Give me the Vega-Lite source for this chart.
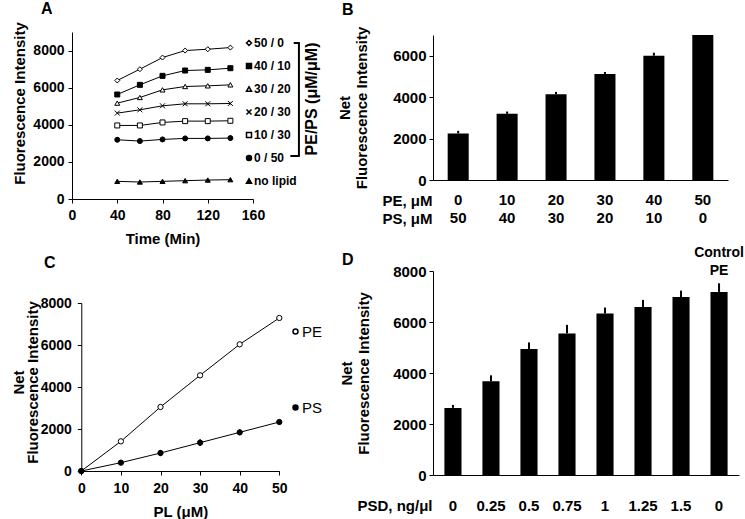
{
  "$schema": "https://vega.github.io/schema/vega-lite/v6.json",
  "background": "white",
  "padding": {"left": 11, "top": 0, "right": 2, "bottom": 2},
  "config": {
    "font": "Liberation Sans",
    "view": {"stroke": null},
    "axis": {"grid": false, "domainColor": "black", "domainWidth": 1, "tickColor": "black", "tickWidth": 1, "labelColor": "black", "labelFontWeight": "bold", "labelFontSize": 14, "titleColor": "black", "titleFontWeight": "bold", "titleFontSize": 15, "labelFont": "Liberation Sans", "titleFont": "Liberation Sans"},
    "title": {"fontSize": 16, "fontWeight": "bold", "anchor": "start", "frame": "group", "color": "black", "font": "Liberation Sans"}
  },
  "spacing": 14,
  "resolve": {"scale": {"shape": "independent", "fill": "independent"}, "legend": {"shape": "independent", "fill": "independent"}},
  "hconcat": [
    {
      "spacing": 9,
      "resolve": {"scale": {"shape": "independent", "fill": "independent"}, "legend": {"shape": "independent", "fill": "independent"}},
      "vconcat": [
        {
          "width": 181, "height": 167,
          "title": {"text": "A", "dx": -31, "offset": 5},
          "data": {"values": [
            {"time": 40, "series": "50 / 0", "value": 6386}, {"time": 60, "series": "50 / 0", "value": 6996}, {"time": 80, "series": "50 / 0", "value": 7623}, {"time": 100, "series": "50 / 0", "value": 8000, "lo": 7850, "hi": 8150}, {"time": 120, "series": "50 / 0", "value": 8072, "lo": 7920, "hi": 8220}, {"time": 140, "series": "50 / 0", "value": 8161, "lo": 8010, "hi": 8310},
            {"time": 40, "series": "40 / 10", "value": 5632}, {"time": 60, "series": "40 / 10", "value": 6152}, {"time": 80, "series": "40 / 10", "value": 6637, "lo": 6490, "hi": 6790}, {"time": 100, "series": "40 / 10", "value": 6924, "lo": 6770, "hi": 7080}, {"time": 120, "series": "40 / 10", "value": 6960, "lo": 6810, "hi": 7110}, {"time": 140, "series": "40 / 10", "value": 7049, "lo": 6890, "hi": 7210},
            {"time": 40, "series": "30 / 20", "value": 5166}, {"time": 60, "series": "30 / 20", "value": 5471}, {"time": 80, "series": "30 / 20", "value": 5883}, {"time": 100, "series": "30 / 20", "value": 6063}, {"time": 120, "series": "30 / 20", "value": 6099}, {"time": 140, "series": "30 / 20", "value": 6152, "lo": 6000, "hi": 6300},
            {"time": 40, "series": "20 / 30", "value": 4628}, {"time": 60, "series": "20 / 30", "value": 4807}, {"time": 80, "series": "20 / 30", "value": 5022}, {"time": 100, "series": "20 / 30", "value": 5130, "lo": 5030, "hi": 5230}, {"time": 120, "series": "20 / 30", "value": 5130, "lo": 5030, "hi": 5230}, {"time": 140, "series": "20 / 30", "value": 5148, "lo": 5050, "hi": 5250},
            {"time": 40, "series": "10 / 30", "value": 3964}, {"time": 60, "series": "10 / 30", "value": 3964}, {"time": 80, "series": "10 / 30", "value": 4126}, {"time": 100, "series": "10 / 30", "value": 4197}, {"time": 120, "series": "10 / 30", "value": 4197}, {"time": 140, "series": "10 / 30", "value": 4215},
            {"time": 40, "series": "0 / 50", "value": 3193, "lo": 3040, "hi": 3340}, {"time": 60, "series": "0 / 50", "value": 3121, "lo": 2970, "hi": 3270}, {"time": 80, "series": "0 / 50", "value": 3211, "lo": 3060, "hi": 3360}, {"time": 100, "series": "0 / 50", "value": 3265, "lo": 3110, "hi": 3410}, {"time": 120, "series": "0 / 50", "value": 3265, "lo": 3110, "hi": 3410}, {"time": 140, "series": "0 / 50", "value": 3283, "lo": 3130, "hi": 3430},
            {"time": 40, "series": "no lipid", "value": 951}, {"time": 60, "series": "no lipid", "value": 915}, {"time": 80, "series": "no lipid", "value": 951}, {"time": 100, "series": "no lipid", "value": 987}, {"time": 120, "series": "no lipid", "value": 1022}, {"time": 140, "series": "no lipid", "value": 1040}
          ]},
          "layer": [
            {
              "mark": {"type": "line", "color": "black", "strokeWidth": 1},
              "encoding": {
                "x": {"field": "time", "type": "quantitative", "scale": {"domain": [0, 160]}, "axis": {"values": [0, 40, 80, 120, 160], "format": "d", "title": "Time (Min)", "tickSize": 4, "labelPadding": 5, "titlePadding": 9, "labelFlush": false}},
                "y": {"field": "value", "type": "quantitative", "scale": {"domain": [0, 9000]}, "axis": {"values": [0, 2000, 4000, 6000, 8000], "format": "d", "title": "Fluorescence Intensity", "tickSize": 4, "labelPadding": 4, "titlePadding": 5, "titleY": 71}},
                "detail": {"field": "series", "type": "nominal"}
              }
            },
            {
              "mark": {"type": "rule", "color": "#9a9a9a", "strokeWidth": 1},
              "encoding": {"x": {"field": "time", "type": "quantitative"}, "y": {"field": "lo", "type": "quantitative"}, "y2": {"field": "hi"}}
            },
            {
              "mark": {"type": "point", "stroke": "black", "strokeWidth": 1, "size": 25, "opacity": 1},
              "encoding": {
                "x": {"field": "time", "type": "quantitative"},
                "y": {"field": "value", "type": "quantitative"},
                "shape": {"field": "series", "type": "nominal",
                  "scale": {"domain": ["50 / 0", "40 / 10", "30 / 20", "20 / 30", "10 / 30", "0 / 50", "no lipid"], "range": ["diamond", "square", "triangle-up", "M-1,-1L1,1M-1,1L1,-1", "square", "circle", "triangle-up"]},
                  "legend": {"orient": "none", "legendX": 171, "legendY": 5, "title": null, "padding": 0, "rowPadding": 11, "labelFontSize": 12, "labelFontWeight": "bold", "labelColor": "black", "symbolSize": 25, "labelOffset": -1, "encode": {"symbols": {"update": {"stroke": {"value": "black"}, "strokeWidth": {"value": 1}}}}}},
                "fill": {"field": "series", "type": "nominal",
                  "scale": {"domain": ["50 / 0", "40 / 10", "30 / 20", "20 / 30", "10 / 30", "0 / 50", "no lipid"], "range": ["white", "black", "white", "white", "white", "black", "black"]},
                  "legend": {"orient": "none", "legendX": 171, "legendY": 5, "title": null, "padding": 0, "rowPadding": 11, "labelFontSize": 12, "labelFontWeight": "bold", "labelColor": "black", "symbolSize": 25, "labelOffset": -1, "encode": {"symbols": {"update": {"stroke": {"value": "black"}, "strokeWidth": {"value": 1}}}}}}
              }
            },
            {
              "data": {"values": [{}]},
              "mark": {"type": "rule", "color": "black", "strokeWidth": 2},
              "encoding": {"x": {"datum": 200.6, "type": "quantitative"}, "y": {"datum": 8407, "type": "quantitative"}, "y2": {"datum": 2317}}
            },
            {
              "data": {"values": [{}]},
              "mark": {"type": "rule", "color": "black", "strokeWidth": 2},
              "encoding": {"x": {"datum": 196, "type": "quantitative"}, "x2": {"datum": 201.4}, "y": {"datum": 8407, "type": "quantitative"}}
            },
            {
              "data": {"values": [{}]},
              "mark": {"type": "rule", "color": "black", "strokeWidth": 2},
              "encoding": {"x": {"datum": 193, "type": "quantitative"}, "x2": {"datum": 201.4}, "y": {"datum": 2317, "type": "quantitative"}}
            },
            {
              "data": {"values": [{}]},
              "mark": {"type": "text", "angle": 270, "fontSize": 16, "fontWeight": "bold", "text": "PE/PS (μM/μM)", "align": "center", "baseline": "middle", "color": "black"},
              "encoding": {"x": {"datum": 212.4, "type": "quantitative"}, "y": {"datum": 5389, "type": "quantitative"}}
            }
          ]
        },
        {
          "width": 207, "height": 168,
          "title": {"text": "C", "dx": -28, "offset": 25},
          "data": {"values": [
            {"pl": 0, "lipid": "PE", "value": 0}, {"pl": 10, "lipid": "PE", "value": 1413}, {"pl": 20, "lipid": "PE", "value": 3048}, {"pl": 30, "lipid": "PE", "value": 4556}, {"pl": 40, "lipid": "PE", "value": 6032}, {"pl": 50, "lipid": "PE", "value": 7286},
            {"pl": 0, "lipid": "PS", "value": 0}, {"pl": 10, "lipid": "PS", "value": 397}, {"pl": 20, "lipid": "PS", "value": 857, "lo": 710, "hi": 1000}, {"pl": 30, "lipid": "PS", "value": 1349, "lo": 1190, "hi": 1510}, {"pl": 40, "lipid": "PS", "value": 1841, "lo": 1700, "hi": 1980}, {"pl": 50, "lipid": "PS", "value": 2333}
          ]},
          "layer": [
            {
              "mark": {"type": "line", "color": "black", "strokeWidth": 1},
              "encoding": {
                "x": {"field": "pl", "type": "quantitative", "scale": {"domain": [0, 50], "range": [9.3, 207.3]}, "axis": {"values": [0, 10, 20, 30, 40, 50], "format": "d", "title": "PL (μM)", "tickSize": 4, "labelPadding": 6, "titlePadding": 9, "labelFlush": false}},
                "y": {"field": "value", "type": "quantitative", "scale": {"domain": [0, 8000]}, "axis": {"offset": -9.3, "values": [0, 1000, 2000, 3000, 4000, 5000, 6000, 7000, 8000], "format": "d", "labelExpr": "datum.value % 2000 == 0 ? datum.label : ''", "title": ["Net", "Fluorescence Intensity"], "titleLineHeight": 14, "tickSize": 4, "labelPadding": 6, "titlePadding": 0, "titleY": 79}},
                "detail": {"field": "lipid", "type": "nominal"}
              }
            },
            {
              "mark": {"type": "rule", "color": "black", "strokeWidth": 1.5},
              "encoding": {"x": {"field": "pl", "type": "quantitative"}, "y": {"field": "lo", "type": "quantitative"}, "y2": {"field": "hi"}}
            },
            {
              "mark": {"type": "point", "stroke": "black", "strokeWidth": 1, "size": 28, "opacity": 1},
              "encoding": {
                "x": {"field": "pl", "type": "quantitative"},
                "y": {"field": "value", "type": "quantitative"},
                "shape": {"field": "lipid", "type": "nominal", "scale": {"domain": ["PE", "PS"], "range": ["circle", "circle"]},
                  "legend": {"orient": "none", "legendX": 216, "legendY": 21, "title": null, "padding": 0, "rowPadding": 60, "labelFontSize": 15, "labelFontWeight": "normal", "labelColor": "black", "symbolSize": 25, "labelOffset": -1, "encode": {"symbols": {"update": {"stroke": {"value": "black"}, "strokeWidth": {"value": 1}}}}}},
                "fill": {"field": "lipid", "type": "nominal", "scale": {"domain": ["PE", "PS"], "range": ["white", "black"]},
                  "legend": {"orient": "none", "legendX": 216, "legendY": 21, "title": null, "padding": 0, "rowPadding": 60, "labelFontSize": 15, "labelFontWeight": "normal", "labelColor": "black", "symbolSize": 25, "labelOffset": -1, "encode": {"symbols": {"update": {"stroke": {"value": "black"}, "strokeWidth": {"value": 1}}}}}}
              }
            }
          ]
        }
      ]
    },
    {
      "spacing": 20,
      "vconcat": [
        {
          "width": 295, "height": 148,
          "title": {"text": "B", "dx": -91, "offset": 8},
          "data": {"values": [
            {"cat": "0|50", "value": 2246, "hi": 2374},
            {"cat": "10|40", "value": 3193, "hi": 3305},
            {"cat": "20|30", "value": 4139, "hi": 4252},
            {"cat": "30|20", "value": 5118, "hi": 5214},
            {"cat": "40|10", "value": 6000, "hi": 6145},
            {"cat": "50|0", "value": 7000, "hi": 7000}
          ]},
          "encoding": {
            "x": {"field": "cat", "type": "nominal", "sort": null, "scale": {"paddingInner": 0.57, "paddingOuter": 0.3},
              "axis": {"labelAngle": 0, "labelExpr": "split(datum.label, '|')", "ticks": false, "labelPadding": 12, "labelLineHeight": 18, "labelFontSize": 15, "title": ["PE, μM", "PS, μM"], "titleAlign": "right", "titleX": -1, "titleY": 13, "titleBaseline": "top", "titleLineHeight": 18, "titleFontSize": 15}}
          },
          "layer": [
            {
              "mark": {"type": "bar", "color": "black"},
              "encoding": {"y": {"field": "value", "type": "quantitative", "scale": {"domain": [0, 7000], "range": [148, 3]}, "axis": {"values": [0, 1000, 2000, 3000, 4000, 5000, 6000, 7000], "format": "d", "labelExpr": "datum.value % 2000 == 0 ? datum.label : ''", "labelFontSize": 15, "title": ["Net", "Fluorescence Intensity"], "titleLineHeight": 17, "tickSize": 4, "labelPadding": 3, "titlePadding": 23}}}
            },
            {
              "mark": {"type": "rule", "color": "black", "strokeWidth": 2},
              "encoding": {"y": {"field": "value", "type": "quantitative"}, "y2": {"field": "hi"}}
            }
          ]
        },
        {
          "width": 306, "height": 204,
          "title": {"text": "D", "dx": -91, "offset": -21.5},
          "data": {"values": [
            {"dose": "0", "value": 2632, "hi": 2749},
            {"dose": "0.25", "value": 3674, "hi": 3909},
            {"dose": "0.5", "value": 4938, "hi": 5199},
            {"dose": "0.75", "value": 5551, "hi": 5889},
            {"dose": "1", "value": 6332, "hi": 6567},
            {"dose": "1.25", "value": 6590, "hi": 6866},
            {"dose": "1.5", "value": 6980, "hi": 7231},
            {"dose": "Control", "value": 7180, "hi": 7518}
          ]},
          "encoding": {
            "x": {"field": "dose", "type": "nominal", "sort": null, "scale": {"paddingInner": 0.55, "paddingOuter": 0.3},
              "axis": {"labelAngle": 0, "labelExpr": "datum.value == 'Control' ? '0' : datum.label", "ticks": false, "labelPadding": 23, "labelFontSize": 15, "title": "PSD, ng/μl", "titleAlign": "right", "titleX": -1, "titleY": 23, "titleBaseline": "top", "titleFontSize": 15}}
          },
          "layer": [
            {
              "mark": {"type": "bar", "color": "black"},
              "encoding": {"y": {"field": "value", "type": "quantitative", "scale": {"domain": [0, 8000]}, "axis": {"values": [0, 1000, 2000, 3000, 4000, 5000, 6000, 7000, 8000], "format": "d", "labelExpr": "datum.value % 2000 == 0 ? datum.label : ''", "labelFontSize": 15, "title": ["Net", "Fluorescence Intensity"], "titleLineHeight": 17, "tickSize": 4, "labelPadding": 3, "titlePadding": 21}}}
            },
            {
              "mark": {"type": "rule", "color": "black", "strokeWidth": 2},
              "encoding": {"y": {"field": "value", "type": "quantitative"}, "y2": {"field": "hi"}}
            },
            {
              "data": {"values": [{}]},
              "mark": {"type": "text", "text": "Control", "fontSize": 14, "fontWeight": "bold", "align": "center", "baseline": "alphabetic", "dy": -14, "color": "black"},
              "encoding": {"x": {"datum": "Control", "type": "nominal"}, "y": {"datum": 8000, "type": "quantitative"}}
            },
            {
              "data": {"values": [{}]},
              "mark": {"type": "text", "text": "PE", "fontSize": 14, "fontWeight": "bold", "align": "center", "baseline": "alphabetic", "dy": 4, "color": "black"},
              "encoding": {"x": {"datum": "Control", "type": "nominal"}, "y": {"datum": 8000, "type": "quantitative"}}
            }
          ]
        }
      ]
    }
  ]
}
